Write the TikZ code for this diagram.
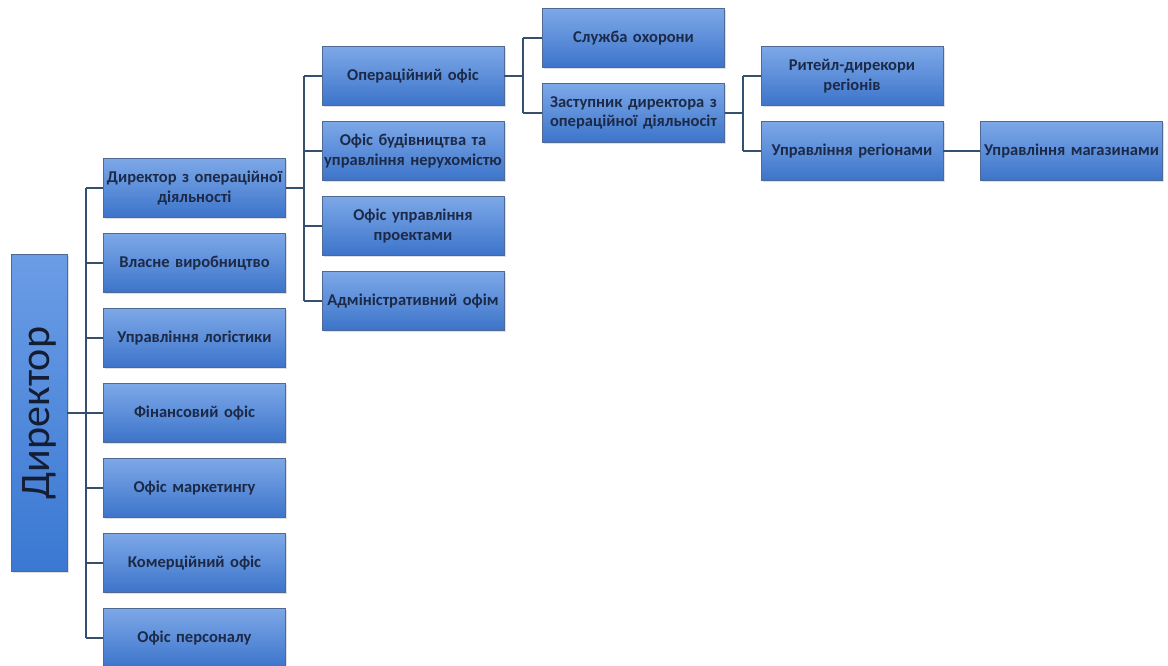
\documentclass[tikz,border=0pt]{standalone}
\usepackage{fontspec}
\setmainfont{Carlito}
\usetikzlibrary{shadows}
\definecolor{boxtop}{HTML}{7DA8E8}
\definecolor{boxbot}{HTML}{3C74CA}
\definecolor{dirtop}{HTML}{6B9DE6}
\definecolor{dirbot}{HTML}{3A78D2}
\definecolor{boxline}{HTML}{4E6A94}
\definecolor{inkblue}{HTML}{1C2A48}
\definecolor{wire}{HTML}{34506E}
\tikzset{
  unit/.style={draw=boxline,line width=0.6pt,top color=boxtop,bottom color=boxbot,
    minimum width=182pt,minimum height=59pt,text width=180pt,align=center,
    inner sep=0pt,text=inkblue,font=\fontsize{16.5}{19.5}\selectfont\bfseries,
    drop shadow={shadow xshift=1.5pt,shadow yshift=-1.5pt,opacity=0.25}},
  conn/.style={draw=wire,line width=1.2pt}
}
\begin{document}
\begin{tikzpicture}[x=1pt,y=-1pt]
\path[use as bounding box] (0,0) rectangle (1168,666);
% director
\node[draw=boxline,line width=0.6pt,top color=dirtop,bottom color=dirbot,
  minimum width=56pt,minimum height=317pt,inner sep=0pt,
  drop shadow={shadow xshift=1.5pt,shadow yshift=-1.5pt,opacity=0.25}] (dir) at (39,413) {};
\node[rotate=90,text=inkblue!70!black,font=\fontsize{42}{46}\selectfont] (dirtxt) at (dir.center) {Директор};
% first level
\node[unit] (ops) at (194.5,188) {Директор з операційної\\діяльності};
\node[unit] (prod) at (194.5,263) {Власне виробництво};
\node[unit] (logi) at (194.5,338) {Управління логістики};
\node[unit] (fin) at (194.5,413) {Фінансовий офіс};
\node[unit] (mkt) at (194.5,488) {Офіс маркетингу};
\node[unit] (com) at (194.5,563) {Комерційний офіс};
\node[unit] (hr) at (194.5,638) {Офіс персоналу};
% second level
\node[unit] (opoff) at (413,76) {Операційний офіс};
\node[unit] (build) at (413,151) {Офіс будівництва та\\управління нерухомістю};
\node[unit] (proj) at (413,226) {Офіс управління\\проектами};
\node[unit] (adm) at (413,301) {Адміністративний офім};
% third level
\node[unit] (sec) at (633.5,38) {Служба охорони};
\node[unit] (dep) at (633.5,113) {Заступник директора з\\операційної діяльносіт};
% fourth level
\node[unit] (ret) at (852,76) {Ритейл-дирекори\\регіонів};
\node[unit] (reg) at (852,151) {Управління регіонами};
\node[unit] (shop) at (1071.5,151) {Управління магазинами};
% connectors
\coordinate (t1) at (86,188);
\coordinate (t2) at (304,76);
\coordinate (t3) at (523,38);
\coordinate (t4) at (743,76);
\draw[conn] (dir.east) -- (t1 |- dir.east);
\draw[conn] (t1 |- ops.west) -- (t1 |- hr.west);
\foreach \n in {ops,prod,logi,fin,mkt,com,hr}
  \draw[conn] (t1 |- \n.west) -- (\n.west);
\draw[conn] (ops.east) -- (t2 |- ops.east);
\draw[conn] (t2 |- opoff.west) -- (t2 |- adm.west);
\foreach \n in {opoff,build,proj,adm}
  \draw[conn] (t2 |- \n.west) -- (\n.west);
\draw[conn] (opoff.east) -- (t3 |- opoff.east);
\draw[conn] (t3 |- sec.west) -- (t3 |- dep.west);
\foreach \n in {sec,dep}
  \draw[conn] (t3 |- \n.west) -- (\n.west);
\draw[conn] (dep.east) -- (t4 |- dep.east);
\draw[conn] (t4 |- ret.west) -- (t4 |- reg.west);
\foreach \n in {ret,reg}
  \draw[conn] (t4 |- \n.west) -- (\n.west);
\draw[conn] (reg.east) -- (shop.west);
\end{tikzpicture}
\end{document}
